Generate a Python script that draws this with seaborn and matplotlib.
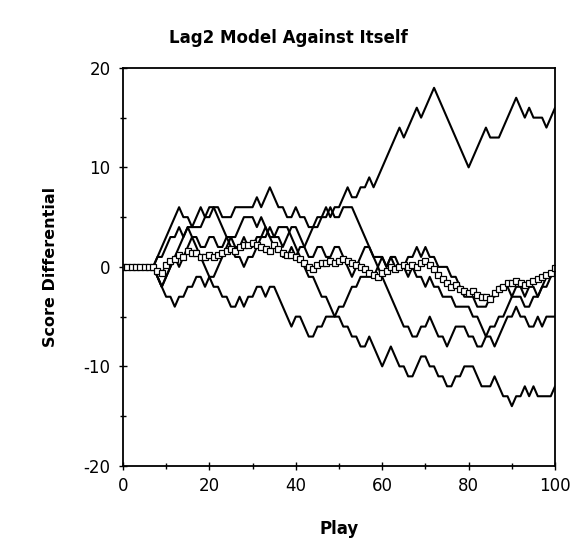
import numpy as np
import pandas as pd
import seaborn as sns
import matplotlib.pyplot as plt
from matplotlib.ticker import MultipleLocator


plays = list(range(0, 101))

# five games, score differential after every play
game_a = [0, 0, 0, 0, 0, 0, 0, 0, 1, 2, 3, 4, 5, 6, 5, 5, 4, 4, 4, 5,
          5, 6, 6, 5, 5, 5, 6, 6, 6, 6, 6, 7, 6, 7, 8, 7, 6, 6, 5, 5,
          6, 5, 5, 4, 4, 5, 5, 6, 5, 6, 6, 7, 8, 7, 7, 8, 8, 9, 8, 9,
          10, 11, 12, 13, 14, 13, 14, 15, 16, 15, 16, 17, 18, 17, 16, 15, 14, 13, 12, 11,
          10, 11, 12, 13, 14, 13, 13, 13, 14, 15, 16, 17, 16, 15, 16, 15, 15, 15, 14, 15,
          16]
game_b = [0, 0, 0, 0, 0, 0, 0, 0, 1, 1, 2, 3, 3, 4, 3, 4, 3, 3, 2, 2,
          3, 3, 2, 2, 3, 3, 2, 2, 3, 2, 2, 3, 3, 4, 3, 3, 4, 4, 4, 3,
          2, 1, 0, -1, -1, -2, -3, -3, -4, -5, -5, -6, -6, -7, -7, -8, -8, -7, -8, -9,
          -10, -9, -8, -9, -10, -10, -11, -11, -10, -9, -9, -10, -10, -11, -11, -12, -12, -11, -11, -10,
          -10, -10, -11, -12, -12, -12, -11, -12, -13, -13, -14, -13, -13, -12, -13, -12, -13, -13, -13, -13,
          -12]
game_c = [0, 0, 0, 0, 0, 0, 0, 0, -1, -2, -1, 0, 1, 0, 1, 2, 3, 2, 1, 0,
          -1, -1, 0, 1, 2, 3, 3, 4, 5, 5, 5, 4, 5, 4, 3, 2, 2, 1, 1, 2,
          1, 2, 2, 3, 4, 4, 5, 5, 6, 5, 5, 6, 6, 6, 5, 4, 3, 2, 1, 0,
          -1, -2, -3, -4, -5, -6, -6, -7, -7, -6, -6, -5, -6, -7, -7, -8, -7, -6, -6, -6,
          -7, -7, -8, -8, -7, -6, -6, -5, -5, -4, -3, -3, -3, -4, -4, -3, -3, -2, -2, -1,
          0]
game_d = [0, 0, 0, 0, 0, 0, 0, 0, -1, -2, -3, -3, -4, -3, -3, -2, -2, -1, -1, -2,
          -1, -2, -2, -3, -3, -4, -4, -3, -4, -3, -3, -2, -2, -3, -2, -2, -3, -4, -5, -6,
          -5, -5, -6, -7, -7, -6, -6, -5, -5, -5, -4, -4, -3, -2, -2, -1, -1, -1, -1, 0,
          1, 0, 1, 0, 0, 0, -1, 0, -1, -1, -2, -1, -2, -2, -3, -3, -3, -4, -4, -4,
          -4, -5, -5, -6, -7, -7, -8, -7, -6, -5, -5, -4, -5, -5, -6, -6, -5, -6, -5, -5,
          -5]
game_e = [0, 0, 0, 0, 0, 0, 0, 0, -1, -2, -1, 0, 1, 2, 3, 4, 4, 5, 6, 5,
          6, 6, 5, 4, 3, 2, 1, 1, 0, 1, 1, 2, 3, 3, 4, 3, 3, 2, 3, 4,
          4, 3, 2, 1, 1, 2, 2, 1, 1, 2, 2, 1, 0, -1, 0, 1, 2, 2, 1, 1,
          1, 0, 1, 1, 0, 0, 1, 1, 2, 1, 2, 1, 1, 0, 0, 0, -1, -1, -2, -3,
          -3, -3, -4, -4, -4, -3, -3, -2, -2, -2, -3, -2, -2, -3, -2, -2, -3, -2, -1, -1,
          0]

# average of the games
mean_line = [0, 0, 0, 0, 0, 0, 0, 0, -0.4, -0.6, 0.2, 0.6, 0.8, 1.2, 1.0, 1.6, 1.4, 1.4, 1.0, 1.0,
             1.2, 1.0, 1.2, 1.4, 1.6, 1.8, 1.6, 2.0, 2.2, 2.2, 2.4, 2.2, 2.0, 1.8, 1.6, 2.2, 1.8, 1.4, 1.2, 1.2,
             1.0, 0.8, 0.4, 0.0, -0.2, 0.2, 0.4, 0.4, 0.6, 0.4, 0.6, 0.8, 0.6, 0.4, 0.2, 0.0, -0.2, -0.6, -0.8, -1.0,
             -0.6, -0.4, 0.0, -0.2, 0.0, 0.2, 0.0, 0.2, 0.0, 0.4, 0.6, 0.2, -0.2, -0.8, -1.2, -1.6, -2.0, -1.8, -2.2, -2.4,
             -2.6, -2.4, -2.8, -3.0, -3.0, -3.2, -2.6, -2.2, -2.0, -1.6, -1.6, -1.4, -1.6, -1.8, -1.6, -1.4, -1.2, -1.0, -0.8, -0.6,
             -0.1]

games = {'a': game_a, 'b': game_b, 'c': game_c, 'd': game_d, 'e': game_e}
df = pd.concat([pd.DataFrame({'play': plays, 'score': v, 'game': k})
                for k, v in games.items()], ignore_index=True)
df_mean = pd.DataFrame({'play': plays, 'score': mean_line})

sns.set_style("ticks")
plt.rcParams['font.family'] = ['DejaVu Sans']
plt.rcParams['axes.unicode_minus'] = False
plt.rcParams['text.color'] = 'black'
plt.rcParams['axes.labelcolor'] = 'black'
plt.rcParams['xtick.color'] = 'black'
plt.rcParams['ytick.color'] = 'black'

fig = plt.figure(figsize=(5.77, 5.52), dpi=100)
ax = fig.add_axes([0.213, 0.156, 0.749, 0.721])

sns.lineplot(data=df, x='play', y='score', units='game', estimator=None,
             color='black', linewidth=1.5, ax=ax)
sns.lineplot(data=df_mean, x='play', y='score', color='black', linewidth=1.0,
             marker='s', markersize=5, markerfacecolor='white',
             markeredgecolor='black', markeredgewidth=0.9, ax=ax)

ax.set_xlim(0, 100)
ax.set_ylim(-20, 20)
ax.xaxis.set_major_locator(MultipleLocator(20))
ax.xaxis.set_minor_locator(MultipleLocator(10))
ax.yaxis.set_major_locator(MultipleLocator(10))
ax.yaxis.set_minor_locator(MultipleLocator(5))
ax.tick_params(which='both', direction='inout', color='black', width=1)
ax.tick_params(which='major', length=6, labelsize=12)
ax.tick_params(axis='x', which='major', pad=5)
ax.tick_params(axis='y', which='major', pad=6)
ax.tick_params(which='minor', length=4)
for s in ax.spines.values():
    s.set_visible(True)
    s.set_color('black')
    s.set_linewidth(1.3)

fig.text(0.5, 0.931, 'Lag2 Model Against Itself', fontsize=12, fontweight='bold',
         ha='center', va='center')
ax.set_xlabel('Play', fontsize=12, fontweight='bold')
ax.set_ylabel('Score Differential', fontsize=11.5, fontweight='bold')
ax.xaxis.set_label_coords(0.5, -0.135)
ax.yaxis.set_label_coords(-0.15, 0.5)

fig.savefig('out.png', dpi=100)
